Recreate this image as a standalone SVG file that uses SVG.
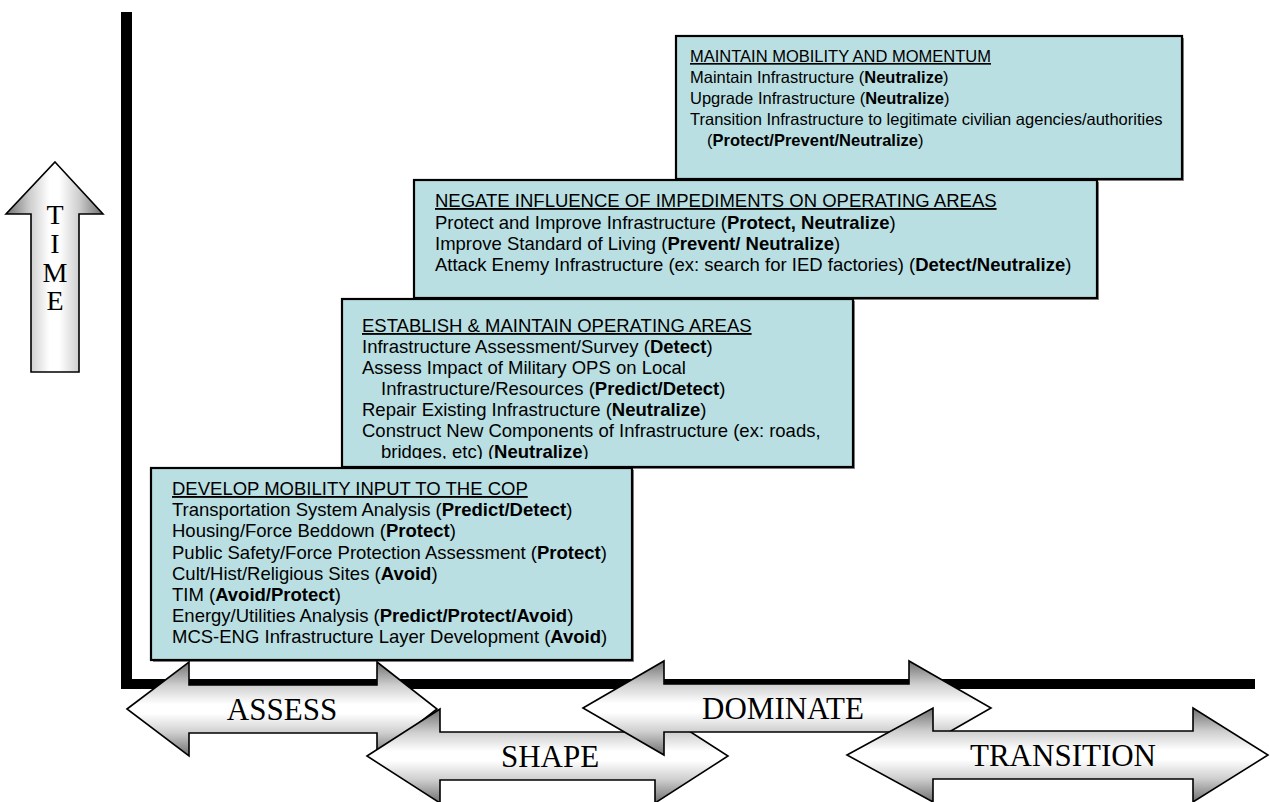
<svg xmlns="http://www.w3.org/2000/svg" width="1270" height="802" viewBox="0 0 1270 802">
  <defs>
    <!-- cylinder-style shading for the phase arrows (top/bottom dark, middle light) -->
    <linearGradient id="shadeV" x1="0" y1="0" x2="0" y2="1">
      <stop offset="0" stop-color="#707070"/>
      <stop offset="0.25" stop-color="#cfcfcf"/>
      <stop offset="0.45" stop-color="#ffffff"/>
      <stop offset="0.55" stop-color="#ffffff"/>
      <stop offset="0.75" stop-color="#cfcfcf"/>
      <stop offset="1" stop-color="#707070"/>
    </linearGradient>
    <!-- same shading turned sideways for the TIME arrow -->
    <linearGradient id="shadeH" x1="0" y1="0" x2="1" y2="0">
      <stop offset="0" stop-color="#707070"/>
      <stop offset="0.25" stop-color="#cfcfcf"/>
      <stop offset="0.45" stop-color="#ffffff"/>
      <stop offset="0.55" stop-color="#ffffff"/>
      <stop offset="0.75" stop-color="#cfcfcf"/>
      <stop offset="1" stop-color="#707070"/>
    </linearGradient>
    <!-- the last line of stage 2 overflows its frame and is cut off -->
    <clipPath id="clipEstablish">
      <rect x="342" y="299" width="511" height="160"/>
    </clipPath>
  </defs>
  <style>
    .box { fill: #b9dfe2; stroke: #000; stroke-width: 2.2; }
    .shadow { fill: #8a8a8a; }
    .txt { font-family: "Liberation Sans", Arial, sans-serif; font-size: 18.5px; fill: #000; }
    .small { font-size: 16.5px; }
    .head { text-decoration: underline; }
    .b { font-weight: bold; }
    .arrow { stroke: #000; stroke-width: 1.6; stroke-linejoin: miter; }
    .phase { font-family: "Liberation Serif", "Times New Roman", serif; font-size: 31px; fill: #000; text-anchor: middle; }
    .time { font-family: "Liberation Serif", "Times New Roman", serif; font-size: 28px; fill: #000; text-anchor: middle; }
  </style>

  <rect width="1270" height="802" fill="#ffffff"/>

  <!-- time axis and phase axis -->
  <g id="axes">
    <rect x="121" y="12" width="11" height="677" fill="#000"/>
    <rect x="121" y="679" width="1134" height="10" fill="#000"/>
  </g>

  <!-- TIME arrow -->
  <g id="time-arrow">
    <polygon class="arrow" fill="url(#shadeH)" points="55,162 103,214 79,214 79,372 31,372 31,214 6,214"/>
    <text class="time" x="55" y="224">T</text>
    <text class="time" x="55" y="253">I</text>
    <text class="time" x="55" y="282">M</text>
    <text class="time" x="55" y="310">E</text>
  </g>

  <!-- stage 4 -->
  <g id="box-maintain">
    <rect class="shadow" x="678" y="38" width="506" height="143"/>
    <rect class="box" x="676" y="36" width="506" height="143"/>
    <text class="txt small head" x="690" y="62">MAINTAIN MOBILITY AND MOMENTUM</text>
    <text class="txt small" x="690" y="83">Maintain Infrastructure (<tspan class="b">Neutralize</tspan>)</text>
    <text class="txt small" x="690" y="104">Upgrade Infrastructure (<tspan class="b">Neutralize</tspan>)</text>
    <text class="txt small" x="690" y="125">Transition Infrastructure to legitimate civilian agencies/authorities</text>
    <text class="txt small" x="707" y="146">(<tspan class="b">Protect/Prevent/Neutralize</tspan>)</text>
  </g>

  <!-- stage 3 -->
  <g id="box-negate">
    <rect class="shadow" x="416" y="182" width="683" height="118"/>
    <rect class="box" x="414" y="180" width="683" height="118"/>
    <text class="txt head" x="435" y="207">NEGATE INFLUENCE OF IMPEDIMENTS ON OPERATING AREAS</text>
    <text class="txt" x="435" y="229">Protect and Improve Infrastructure (<tspan class="b">Protect, Neutralize</tspan>)</text>
    <text class="txt" x="435" y="250">Improve Standard of Living (<tspan class="b">Prevent/ Neutralize</tspan>)</text>
    <text class="txt" x="435" y="271">Attack Enemy Infrastructure (ex: search for IED factories) (<tspan class="b">Detect/Neutralize</tspan>)</text>
  </g>

  <!-- stage 2 -->
  <g id="box-establish">
    <rect class="shadow" x="344" y="301" width="511" height="168"/>
    <rect class="box" x="342" y="299" width="511" height="168"/>
    <g clip-path="url(#clipEstablish)">
      <text class="txt head" x="362" y="332">ESTABLISH &amp; MAINTAIN OPERATING AREAS</text>
      <text class="txt" x="362" y="353">Infrastructure Assessment/Survey (<tspan class="b">Detect</tspan>)</text>
      <text class="txt" x="362" y="374">Assess Impact of Military OPS on Local</text>
      <text class="txt" x="381" y="395">Infrastructure/Resources (<tspan class="b">Predict/Detect</tspan>)</text>
      <text class="txt" x="362" y="416">Repair Existing Infrastructure (<tspan class="b">Neutralize</tspan>)</text>
      <text class="txt" x="362" y="437">Construct New Components of Infrastructure (ex: roads,</text>
      <text class="txt" x="381" y="458">bridges, etc) (<tspan class="b">Neutralize</tspan>)</text>
    </g>
  </g>

  <!-- stage 1 -->
  <g id="box-develop">
    <rect class="shadow" x="153" y="470" width="481" height="192"/>
    <rect class="box" x="151" y="468" width="481" height="192"/>
    <text class="txt head" x="172" y="495">DEVELOP MOBILITY INPUT TO THE COP</text>
    <text class="txt" x="172" y="516">Transportation System Analysis (<tspan class="b">Predict/Detect</tspan>)</text>
    <text class="txt" x="172" y="537">Housing/Force Beddown (<tspan class="b">Protect</tspan>)</text>
    <text class="txt" x="172" y="559">Public Safety/Force Protection Assessment (<tspan class="b">Protect</tspan>)</text>
    <text class="txt" x="172" y="580">Cult/Hist/Religious Sites (<tspan class="b">Avoid</tspan>)</text>
    <text class="txt" x="172" y="601">TIM (<tspan class="b">Avoid/Protect</tspan>)</text>
    <text class="txt" x="172" y="622">Energy/Utilities Analysis (<tspan class="b">Predict/Protect/Avoid</tspan>)</text>
    <text class="txt" x="172" y="643">MCS-ENG Infrastructure Layer Development (<tspan class="b">Avoid</tspan>)</text>
  </g>

  <!-- phase arrows, later phases drawn over earlier ones -->
  <g id="phase-assess">
    <path class="arrow" fill="url(#shadeV)" d="M127,709 L189,662 L189,685 L377,685 L377,662 L437,709 L377,756 L377,733 L189,733 L189,756 Z"/>
    <text class="phase" x="282" y="720">ASSESS</text>
  </g>
  <g id="phase-shape">
    <path class="arrow" fill="url(#shadeV)" d="M367,756 L440,709 L440,732 L655,732 L655,709 L728,756 L655,803 L655,780 L440,780 L440,803 Z"/>
    <text class="phase" x="550" y="767">SHAPE</text>
  </g>
  <g id="phase-dominate">
    <path class="arrow" fill="url(#shadeV)" d="M583,708 L664,661 L664,684 L909,684 L909,661 L991,708 L909,755 L909,732 L664,732 L664,755 Z"/>
    <text class="phase" x="783" y="719">DOMINATE</text>
  </g>
  <g id="phase-transition">
    <path class="arrow" fill="url(#shadeV)" d="M847,755 L933,708 L933,731 L1193,731 L1193,708 L1268,755 L1193,802 L1193,779 L933,779 L933,802 Z"/>
    <text class="phase" x="1063" y="766">TRANSITION</text>
  </g>
</svg>
